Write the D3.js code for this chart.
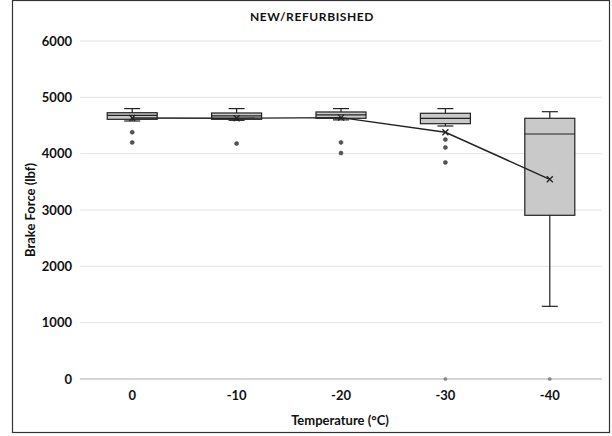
<!DOCTYPE html>
<html>
<head>
<meta charset="utf-8">
<script src="https://cdn.jsdelivr.net/npm/d3@7"></script>
<style>
  body { margin: 0; background: #fff; }
  text { font-family: Lato, "Open Sans", sans-serif; font-weight: bold; fill: #111; }
</style>
</head>
<body>
<div id="app"></div>
<script>
// data
const temperatures = ["0", "-10", "-20", "-30", "-40"];
const whiskerHigh = [4800, 4800, 4800, 4800, 4745];
const q3 = [4727, 4722, 4740, 4717, 4628];
const medians = [4680, 4672, 4690, 4628, 4349];
const q1 = [4610, 4610, 4628, 4532, 2906];
const whiskerLow = [4580, 4592, 4600, 4491, 1290];
const means = [4632, 4630, 4640, 4380, 3545];
const outliers = [[4380, 4200], [4180], [4200, 4010], [4250, 4110, 3845, 0], [0]];
const yTicks = [0, 1000, 2000, 3000, 4000, 5000, 6000];

const width = 612, height = 436;
const margin = { top: 41, right: 10, bottom: 57, left: 80 };
const plotW = width - margin.left - margin.right;
const plotH = height - margin.top - margin.bottom;

const rows = temperatures.map((t, i) => ({
  t, hi: whiskerHigh[i], q3: q3[i], med: medians[i], q1: q1[i],
  lo: whiskerLow[i], mean: means[i], out: outliers[i]
}));

const svg = d3.select("#app").append("svg")
  .attr("width", width).attr("height", height);

// outer frame
svg.append("rect")
  .attr("x", 12.5).attr("y", 0.5)
  .attr("width", 597).attr("height", 432)
  .attr("fill", "none").attr("stroke", "#333").attr("stroke-width", 1.2);

const g = svg.append("g")
  .attr("transform", `translate(${margin.left},${margin.top})`);

const x = d3.scaleBand().domain(temperatures).range([0, plotW]).padding(0);
const y = d3.scaleLinear().domain([0, 6000]).range([plotH, 0]);

// gridlines
g.append("g").selectAll("line")
  .data(yTicks.filter(d => d > 0))
  .join("line")
  .attr("x1", 0).attr("x2", plotW)
  .attr("y1", d => y(d)).attr("y2", d => y(d))
  .attr("stroke", "#e4e4e4").attr("stroke-width", 1);

// baseline
g.append("line")
  .attr("x1", 0).attr("x2", plotW)
  .attr("y1", y(0)).attr("y2", y(0))
  .attr("stroke", "#c8c8c8").attr("stroke-width", 1.5);

// y axis labels
const yAxis = g.append("g")
  .call(d3.axisLeft(y).tickValues(yTicks).tickSize(0).tickPadding(8).tickFormat(d3.format("d")));
yAxis.select(".domain").remove();
yAxis.selectAll("text").style("font-size", "13px")
  .style("font-family", "Lato, sans-serif").style("font-weight", "bold").attr("fill", "#111");

// x axis labels
const xAxis = g.append("g")
  .attr("transform", `translate(0,${plotH})`)
  .call(d3.axisBottom(x).tickSize(0).tickPadding(12));
xAxis.select(".domain").remove();
xAxis.selectAll("text").style("font-size", "13px")
  .style("font-family", "Lato, sans-serif").style("font-weight", "bold").attr("fill", "#111");

const boxW = 50, capW = 16;
const cx = d => x(d.t) + x.bandwidth() / 2;

const boxes = g.append("g").selectAll("g").data(rows).join("g");

// whiskers
boxes.append("line")
  .attr("x1", cx).attr("x2", cx)
  .attr("y1", d => y(d.hi)).attr("y2", d => y(d.lo))
  .attr("stroke", "#222").attr("stroke-width", 1.2);
boxes.selectAll("line.cap")
  .data(d => [d.hi, d.lo].map(v => ({ c: cx(d), v })))
  .join("line").attr("class", "cap")
  .attr("x1", d => d.c - capW / 2).attr("x2", d => d.c + capW / 2)
  .attr("y1", d => y(d.v)).attr("y2", d => y(d.v))
  .attr("stroke", "#222").attr("stroke-width", 1.2);

// boxes
boxes.append("rect")
  .attr("x", d => cx(d) - boxW / 2).attr("width", boxW)
  .attr("y", d => y(d.q3)).attr("height", d => y(d.q1) - y(d.q3))
  .attr("fill", "#c9c9c9").attr("stroke", "#222").attr("stroke-width", 1.2);
boxes.append("line")
  .attr("x1", d => cx(d) - boxW / 2).attr("x2", d => cx(d) + boxW / 2)
  .attr("y1", d => y(d.med)).attr("y2", d => y(d.med))
  .attr("stroke", "#222").attr("stroke-width", 1.2);

// outliers (the zero readings are drawn fainter, as in the source)
boxes.selectAll("circle")
  .data(d => d.out.map(v => ({ c: cx(d), v })))
  .join("circle")
  .attr("cx", d => d.c).attr("cy", d => y(d.v)).attr("r", d => d.v === 0 ? 1.6 : 2)
  .attr("fill", d => d.v === 0 ? "#888" : "#555")
  .attr("stroke", d => d.v === 0 ? "#777" : "#333").attr("stroke-width", 0.5);

// mean line and markers
g.append("path")
  .datum(rows)
  .attr("d", d3.line().x(cx).y(d => y(d.mean)))
  .attr("fill", "none").attr("stroke", "#222").attr("stroke-width", 1.4);
g.append("g").selectAll("path")
  .data(rows).join("path")
  .attr("transform", d => `translate(${cx(d)},${y(d.mean)})`)
  .attr("d", "M-3,-3L3,3M-3,3L3,-3")
  .attr("stroke", "#222").attr("stroke-width", 1.3);

// titles
svg.append("text")
  .attr("x", 312).attr("y", 21).attr("text-anchor", "middle")
  .style("font-size", "12px").style("letter-spacing", "0.6px")
  .text("NEW/REFURBISHED");
svg.append("text")
  .attr("transform", `translate(35,${margin.top + plotH / 2}) rotate(-90)`)
  .attr("text-anchor", "middle").style("font-size", "13px")
  .text("Brake Force (lbf)");
svg.append("text")
  .attr("x", 340).attr("y", 425).attr("text-anchor", "middle")
  .style("font-size", "13px")
  .text("Temperature (°C)");
</script>
</body>
</html>
